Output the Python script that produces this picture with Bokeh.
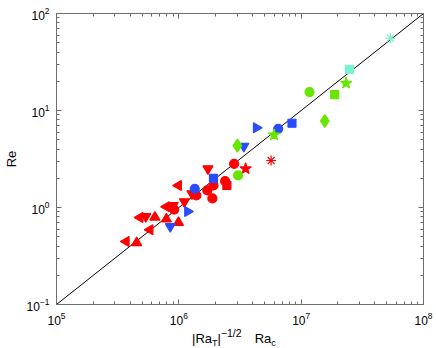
import math
from bokeh.plotting import figure
from bokeh.layouts import column
from bokeh.models import (ColumnDataSource, LogAxis, FixedTicker, LogTickFormatter,
                          CustomJSTickFormatter, Range1d, Div)
from bokeh.embed import file_html
from bokeh.resources import INLINE

# ---------------- data ----------------
red_x = [3.71e5, 4.52e5, 4.81e5, 5.37e5, 6.37e5, 5.81e5, 7.91e5, 9.93e5, 7.91e5, 9.0e5,
         9.16e5, 1.11e6, 1.28e6, 1.39e6, 9.93e5, 1.73e6, 1.71e6, 1.92e6, 1.88e6, 2.39e6,
         2.47e6, 2.83e6, 3.51e6, 5.68e6]
red_y = [0.446, 0.433, 0.789, 0.807, 0.794, 0.589, 0.760, 0.700, 1.02, 1.05,
         0.953, 1.15, 1.39, 1.33, 1.69, 2.51, 1.50, 1.69, 1.24, 1.87,
         1.69, 2.82, 2.51, 3.05]
red_marker = ["tri_left", "tri_up", "tri_left", "tri_down", "tri_up", "tri_left", "tri_up",
              "tri_up", "tri_left", "tri_down", "circle", "tri_down", "tri_down", "circle",
              "tri_left", "tri_down", "circle", "circle", "circle", "circle", "square",
              "circle", "star", "asterisk"]

blue_x = [8.51e5, 1.18e6, 1.35e6, 1.92e6, 3.40e6, 4.30e6, 6.49e6, 8.41e6]
blue_y = [0.637, 0.910, 1.56, 2.00, 4.29, 6.64, 6.47, 7.39]
blue_marker = ["tri_down", "tri_right", "circle", "square", "tri_down", "tri_right",
               "circle", "square"]

green_x = [3.01e6, 3.05e6, 6.0e6, 1.17e7, 1.56e7, 1.88e7, 2.33e7]
green_y = [4.35, 2.14, 5.61, 15.5, 7.80, 14.6, 19.1]
green_marker = ["diamond", "circle", "star", "circle", "diamond", "square", "star"]

cyan_x = [2.48e7, 5.36e7]
cyan_y = [26.5, 55.6]
cyan_marker = ["square", "asterisk"]

fit_x = [1e5, 1e8]
fit_y = [0.1, 100.0]

x_major = [1e5, 1e6, 1e7, 1e8]
y_major = [1e-1, 1e0, 1e1, 1e2]

# ---------------- styles ----------------
RED = "#ff0000"
BLUE = "#2a4bff"
GREEN = "#66e600"
CYAN = "#78f2d2"
AXIS_COLOR = "#6e6e6e"
FONT = "Liberation Sans"

MARKER_STYLE = {
    "circle": ("circle", 0.0, 9),
    "square": ("square", 0.0, 8),
    "diamond": ("diamond", 0.0, 13),
    "star": ("star", 0.0, 12),
    "asterisk": ("asterisk", 0.0, 10),
    "tri_up": ("triangle", 0.0, 10),
    "tri_down": ("inverted_triangle", 0.0, 10),
    "tri_left": ("triangle", math.pi / 2, 10),
    "tri_right": ("triangle", -math.pi / 2, 10),
}


def make_source(xs, ys, kinds):
    return ColumnDataSource(dict(
        x=xs, y=ys,
        marker=[MARKER_STYLE[k][0] for k in kinds],
        angle=[MARKER_STYLE[k][1] for k in kinds],
        size=[MARKER_STYLE[k][2] for k in kinds],
    ))


p = figure(width=436, height=328, x_axis_type="log", y_axis_type="log",
           x_range=Range1d(1e5, 1e8), y_range=Range1d(0.1, 100),
           output_backend="svg", toolbar_location=None,
           min_border_left=49, min_border_right=13, min_border_top=13, min_border_bottom=24)
p.grid.visible = False
p.outline_line_color = AXIS_COLOR
p.background_fill_color = "white"
p.border_fill_color = "white"

x_minor = [m * 10 ** e for e in range(5, 8) for m in range(2, 10)]
y_minor = [m * 10 ** e for e in range(-1, 2) for m in range(2, 10)]
xt = FixedTicker(ticks=x_major, minor_ticks=x_minor)
yt = FixedTicker(ticks=y_major, minor_ticks=y_minor)


def style_axis(ax):
    ax.axis_line_color = AXIS_COLOR
    ax.major_tick_line_color = AXIS_COLOR
    ax.minor_tick_line_color = AXIS_COLOR
    ax.major_tick_in = 5
    ax.major_tick_out = 0
    ax.minor_tick_in = 3
    ax.minor_tick_out = 0
    ax.major_label_text_font = FONT
    ax.major_label_text_font_size = "12px"
    ax.major_label_text_color = "black"


p.xaxis.ticker = xt
p.yaxis.ticker = yt
p.xaxis.formatter = LogTickFormatter()
p.yaxis.formatter = LogTickFormatter()
for ax in (p.xaxis[0], p.yaxis[0]):
    style_axis(ax)
p.xaxis.major_label_standoff = 7
p.yaxis.major_label_standoff = 7

p.yaxis.axis_label = "Re"
p.yaxis.axis_label_text_font = FONT
p.yaxis.axis_label_text_font_size = "13px"
p.yaxis.axis_label_text_font_style = "normal"
p.yaxis.axis_label_text_color = "black"
p.yaxis.axis_label_standoff = 5

blank = CustomJSTickFormatter(code="return ''")
top = LogAxis(ticker=xt, formatter=blank)
right = LogAxis(ticker=yt, formatter=blank)
for ax in (top, right):
    style_axis(ax)
    ax.major_label_text_font_size = "0px"
    ax.major_label_standoff = 0
p.add_layout(top, "above")
p.add_layout(right, "right")

# reference line
p.line(fit_x, fit_y, line_color="black", line_width=1)

for xs, ys, kinds, col in ((red_x, red_y, red_marker, RED),
                           (blue_x, blue_y, blue_marker, BLUE),
                           (green_x, green_y, green_marker, GREEN),
                           (cyan_x, cyan_y, cyan_marker, CYAN)):
    src = make_source(xs, ys, kinds)
    p.scatter(x="x", y="y", marker="marker", angle="angle", size="size",
              fill_color=col, line_color=col, line_width=1.2, source=src)

# x-axis title with sub/superscripts as real HTML text
sub = "font-size:9px;position:relative;top:3px"
sup = "font-size:10.5px;position:relative;top:-6px"
xlabel_html = (
    '<div style="position:relative;width:436px;height:20px;">'
    '<span style="position:absolute;left:192px;top:4px;white-space:nowrap;'
    "font-family:'Liberation Sans';font-size:13px;line-height:13px;color:black;\">"
    '|Ra<span style="' + sub + '">T</span>|'
    '<span style="' + sup + '">\u22121/2</span>'
    '<span style="margin-left:13px">Ra</span>'
    '<span style="' + sub + '">c</span>'
    '</span></div>'
)
xlabel = Div(text=xlabel_html, width=436, height=20, margin=(0, 0, 0, 0))

layout = column(p, xlabel, spacing=0)
open("out.html", "w").write(file_html(layout, INLINE))
